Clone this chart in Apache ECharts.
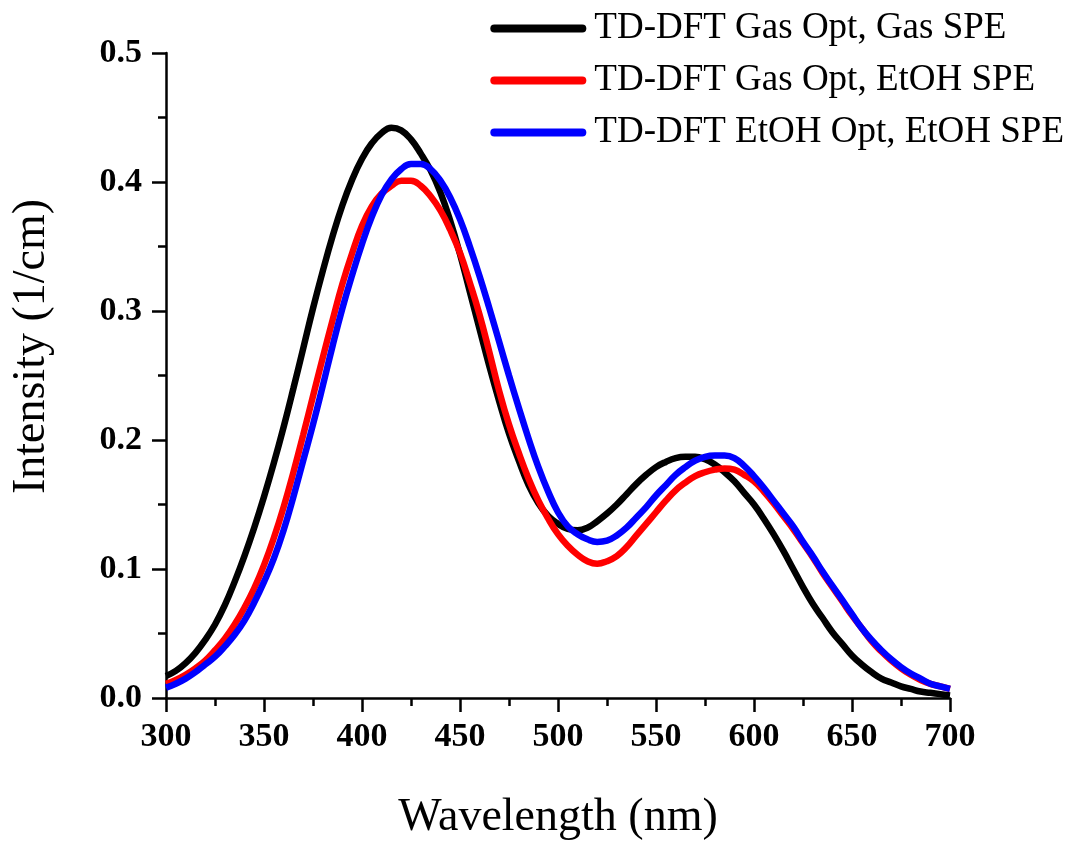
<!DOCTYPE html>
<html>
<head>
<meta charset="utf-8">
<script src="https://cdn.jsdelivr.net/npm/echarts@6/dist/echarts.min.js"></script>
<style>
  html, body { margin: 0; padding: 0; background: #fff; }
  #chart { width: 1069px; height: 842px; }
</style>
</head>
<body>
<div id="chart"></div>
<script>
// Simulated absorption spectra, sampled every 5 nm from 300 to 700 nm
const wavelengths = [];
for (let w = 300; w <= 700; w += 5) wavelengths.push(w);

const gasOptGasSpe = [
  0.017,0.021,0.027,0.035,0.045,0.057,0.072,0.090,0.110,0.132,
  0.156,0.182,0.210,0.240,0.271,0.302,0.331,0.358,0.382,0.402,
  0.418,0.430,0.438,0.442,0.440,0.433,0.422,0.409,0.392,0.370,
  0.344,0.315,0.286,0.257,0.230,0.205,0.184,0.165,0.151,0.141,
  0.135,0.131,0.130,0.132,0.137,0.143,0.150,0.158,0.166,0.173,
  0.179,0.183,0.186,0.187,0.187,0.185,0.181,0.175,0.168,0.159,
  0.150,0.139,0.127,0.114,0.100,0.086,0.073,0.062,0.051,0.042,
  0.033,0.026,0.020,0.015,0.012,0.009,0.007,0.005,0.004,0.003,
  0.002
];

const gasOptEtohSpe = [
  0.011,0.014,0.018,0.023,0.029,0.037,0.046,0.057,0.070,0.085,
  0.103,0.124,0.148,0.175,0.204,0.234,0.264,0.293,0.321,0.345,
  0.366,0.381,0.391,0.397,0.401,0.401,0.397,0.389,0.378,0.363,
  0.345,0.322,0.297,0.268,0.238,0.212,0.190,0.170,0.153,0.139,
  0.127,0.118,0.111,0.106,0.104,0.106,0.110,0.117,0.126,0.135,
  0.144,0.153,0.161,0.167,0.172,0.175,0.177,0.178,0.177,0.173,
  0.168,0.160,0.151,0.141,0.131,0.120,0.109,0.097,0.086,0.075,
  0.064,0.054,0.044,0.036,0.029,0.023,0.018,0.014,0.011,0.009,
  0.007
];

const etohOptEtohSpe = [
  0.008,0.011,0.015,0.020,0.026,0.032,0.040,0.049,0.060,0.074,
  0.090,0.108,0.130,0.156,0.184,0.212,0.242,0.273,0.302,0.328,
  0.352,0.373,0.390,0.402,0.410,0.414,0.414,0.410,0.401,0.388,
  0.371,0.350,0.327,0.302,0.276,0.250,0.225,0.201,0.179,0.160,
  0.144,0.133,0.127,0.123,0.121,0.122,0.126,0.132,0.140,0.148,
  0.157,0.165,0.173,0.179,0.184,0.187,0.188,0.188,0.186,0.180,
  0.172,0.163,0.153,0.143,0.133,0.121,0.110,0.098,0.087,0.076,
  0.065,0.054,0.045,0.037,0.030,0.024,0.019,0.015,0.011,0.009,
  0.007
];

const seriesNames = ['TD-DFT Gas Opt, Gas SPE', 'TD-DFT Gas Opt, EtOH SPE', 'TD-DFT EtOH Opt, EtOH SPE'];
const seriesColors = ['#000000', '#ff0000', '#0000ff'];
const seriesValues = [gasOptGasSpe, gasOptEtohSpe, etohOptEtohSpe];

const FONT = '"Liberation Serif", "DejaVu Serif", serif';

const chart = echarts.init(document.getElementById('chart'), null, { renderer: 'canvas' });

const axisCommon = {
  axisLine: { show: true, onZero: false, lineStyle: { color: '#000', width: 2.5 } },
  axisTick: { show: true, inside: false, length: 14, lineStyle: { color: '#000', width: 2.5 } },
  minorTick: { show: true, splitNumber: 2, length: 8, lineStyle: { color: '#000', width: 2.5 } },
  splitLine: { show: false },
  minorSplitLine: { show: false }
};

// rounded bar used as the legend swatch
const LEGEND_ICON = 'path://M4,0 L92,0 A4,4 0 0 1 92,8 L4,8 A4,4 0 0 1 4,0 Z';

chart.setOption({
  animation: false,
  backgroundColor: '#ffffff',
  grid: { left: 166, right: 119, top: 53, bottom: 144, containLabel: false, outerBoundsMode: 'none' },
  legend: {
    right: 0,
    top: 5,
    orient: 'vertical',
    align: 'left',
    itemWidth: 96,
    itemHeight: 8,
    itemGap: 15,
    data: seriesNames.map(n => ({ name: n, icon: LEGEND_ICON })),
    textStyle: { fontFamily: FONT, fontSize: 37, color: '#000', lineHeight: 37, padding: [0, 0, 0, 3] }
  },
  xAxis: Object.assign({
    type: 'value',
    min: 300,
    max: 700,
    interval: 50,
    name: 'Wavelength (nm)',
    nameLocation: 'middle',
    nameGap: 97,
    nameTextStyle: { fontFamily: FONT, fontSize: 46, color: '#000' },
    axisLabel: { margin: 22, fontFamily: FONT, fontSize: 34, fontWeight: 'bold', color: '#000' }
  }, axisCommon),
  yAxis: Object.assign({
    type: 'value',
    min: 0,
    max: 0.5,
    interval: 0.1,
    name: 'Intensity (1/cm)',
    nameLocation: 'middle',
    nameGap: 111,
    nameRotate: 90,
    nameTextStyle: { fontFamily: FONT, fontSize: 46, color: '#000', padding: [0, 0, 0, 58] },
    axisLabel: {
      margin: 24,
      fontFamily: FONT, fontSize: 34, fontWeight: 'bold', color: '#000',
      formatter: v => v.toFixed(1)
    }
  }, axisCommon),
  series: seriesValues.map((vals, i) => ({
    name: seriesNames[i],
    type: 'line',
    smooth: 0.45,
    symbol: 'none',
    data: wavelengths.map((w, k) => [w, vals[k]]),
    lineStyle: { color: seriesColors[i], width: 6.5 },
    itemStyle: { color: seriesColors[i] },
    z: 2 + i
  }))
});
</script>
</body>
</html>
